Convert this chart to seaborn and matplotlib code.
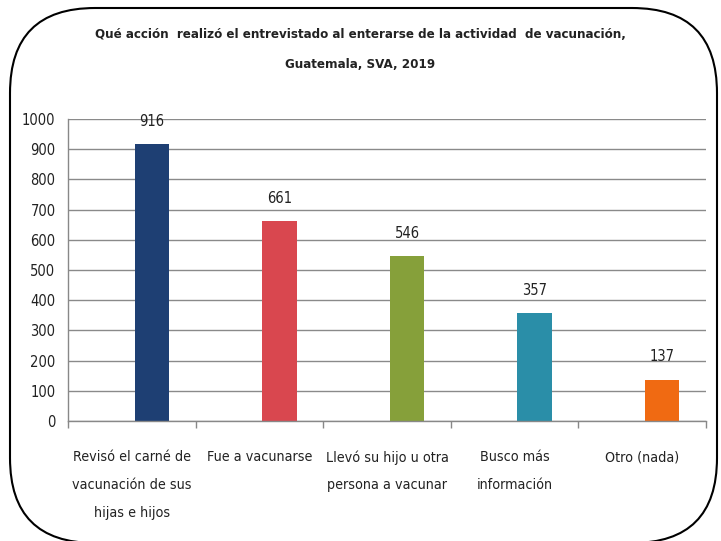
import matplotlib
matplotlib.use("Agg")
import matplotlib.pyplot as plt
import seaborn as sns
import pandas as pd
from matplotlib.patches import FancyBboxPatch
from matplotlib.ticker import FixedLocator

categories = ["Revisó el carné de\nvacunación de sus\nhijas e hijos",
              "Fue a vacunarse",
              "Llevó su hijo u otra\npersona a vacunar",
              "Busco más\ninformación",
              "Otro (nada)"]
values = [916, 661, 546, 357, 137]
colors = ["#1e3f73", "#d9474f", "#86a03a", "#2a8ea8", "#f06a12"]
title = "Qué acción  realizó el entrevistado al enterarse de la actividad  de vacunación,\nGuatemala, SVA, 2019"

sns.set_theme(style="white")
FONT = ["DejaVu Sans"]
plt.rcParams["font.family"] = FONT
plt.rcParams["font.stretch"] = "condensed"

df = pd.DataFrame({"cat": categories, "val": values})

fig = plt.figure(figsize=(7.21, 5.41), dpi=100)
ax = fig.add_axes([68/721, 1-421/541, (706-68)/721, (421-119)/541])

sns.barplot(data=df, x="cat", y="val", hue="cat", palette=colors, legend=False,
            width=0.27, ax=ax, saturation=1, edgecolor="none")

off = 0.157
ax.set_xlim(-0.5 - off, 4.5 - off)
ax.set_ylim(0, 1000)
ax.set_yticks(range(0, 1001, 100))
ax.tick_params(axis="y", labelsize=10.5, labelcolor="#222222", length=5, color="#888888", pad=4)
ax.grid(axis="y", color="#8a8a8a", linewidth=1.0)
ax.set_axisbelow(True)

ax.set_xticks([i - off for i in range(len(categories))])
ax.set_xticklabels(categories, fontsize=10.3, color="#222222", linespacing=2.25, va="top")
ax.tick_params(axis="x", length=0, pad=21)
ax.xaxis.set_minor_locator(FixedLocator([i - 0.5 - off for i in range(len(categories) + 1)]))
ax.tick_params(axis="x", which="minor", length=5, color="#888888", bottom=True)

for s in ["top", "right"]:
    ax.spines[s].set_visible(False)
for s in ["left", "bottom"]:
    ax.spines[s].set_color("#888888")
    ax.spines[s].set_linewidth(1.0)

ax.set_xlabel("")
ax.set_ylabel("")

for i, v in enumerate(values):
    ax.annotate(str(v), xy=(i, v), xytext=(0, 11), textcoords="offset points",
                ha="center", va="bottom", fontsize=10.5, color="#222222")

fig.text(0.5, 1 - 49/541, title, ha="center", va="center", fontsize=9.5,
         fontweight="bold", color="#222222", linespacing=2.7)

border = FancyBboxPatch((0.10, -0.02), 7.07, 5.35,
                        boxstyle="round,pad=0,rounding_size=0.85",
                        transform=fig.dpi_scale_trans, fill=False,
                        edgecolor="black", linewidth=1.5)
fig.patches.append(border)

fig.savefig("out.png", dpi=100)
